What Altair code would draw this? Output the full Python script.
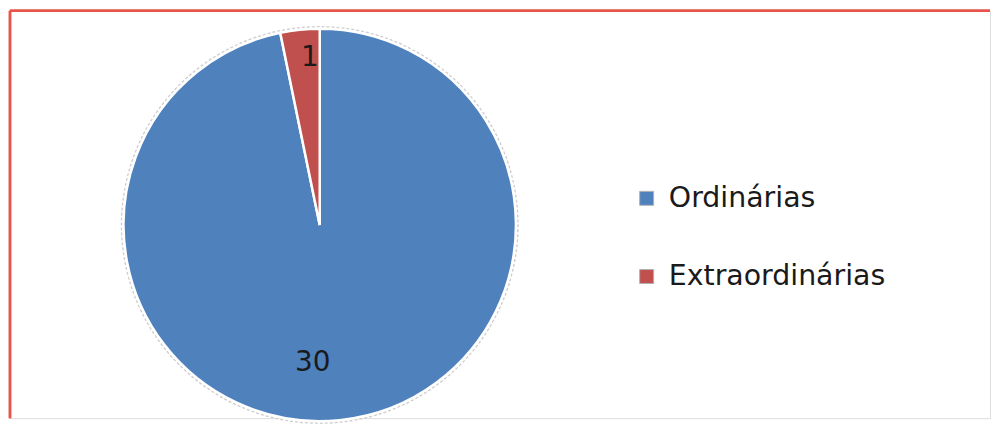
import altair as alt
import pandas as pd

categories = ["Ordinárias", "Extraordinárias"]
values = [30, 1]
colors = ["#4F81BD", "#C0504D"]

df = pd.DataFrame({"categoria": categories, "valor": values, "ordem": [0, 1]})

W, H = 984, 409
CX, CY, R = 311, 215, 197

base = alt.Chart(df)

theta = alt.Theta("valor:Q", stack=True, scale=alt.Scale(zero=True))
order = alt.Order("ordem:Q")

shadow = base.transform_aggregate(total="sum(valor)").mark_arc(
    radius=R + 2, fill=None, stroke="#cfcfcf", strokeWidth=1.5, strokeDash=[3, 2]
).encode(theta=alt.Theta("total:Q"), x=alt.value(CX), y=alt.value(CY))

pie = base.mark_arc(radius=R, stroke="white", strokeWidth=2.5).encode(
    theta=theta,
    order=order,
    color=alt.Color(
        "categoria:N",
        scale=alt.Scale(domain=categories, range=colors),
        legend=alt.Legend(
            title=None,
            orient="none",
            legendX=625,
            legendY=174,
            symbolType="square",
            symbolSize=196,
            symbolStrokeColor="#b0b0b0",
            symbolStrokeWidth=1,
            labelFont="DejaVu Sans",
            labelFontSize=28.5,
            labelColor="#1a1a1a",
            labelOffset=8,
            labelLimit=400,
            rowPadding=49.5,
            symbolOpacity=1,
        ),
    ),
    x=alt.value(CX),
    y=alt.value(CY),
)

stacked = base.transform_window(
    cum="sum(valor)", sort=[alt.SortField("ordem")], frame=[None, 0]
).transform_calculate(mid="datum.cum - datum.valor / 2")

lbl30 = stacked.transform_filter(alt.datum.ordem == 0).mark_text(
    radius=139, dx=-21, font="DejaVu Sans", fontSize=28, color="#1a1a1a"
).encode(theta=alt.Theta("mid:Q", stack=None), text="valor:Q", x=alt.value(CX), y=alt.value(CY))

lbl1 = stacked.transform_filter(alt.datum.ordem == 1).mark_text(
    radius=168, dx=7, font="DejaVu Sans", fontSize=28, color="#1a1a1a"
).encode(theta=alt.Theta("mid:Q", stack=None), text="valor:Q", x=alt.value(CX), y=alt.value(CY))

border_top = base.mark_rule(color="#E8534A", strokeWidth=2.5).encode(
    x=alt.value(0), x2=alt.value(W), y=alt.value(0)
)
border_left = base.mark_rule(color="#E8534A", strokeWidth=2.5).encode(
    x=alt.value(0), y=alt.value(0), y2=alt.value(H)
)

chart = alt.layer(shadow, pie, lbl30, lbl1, border_top, border_left).properties(
    width=W, height=H, padding=0
).configure_view(strokeWidth=0, stroke="transparent").configure(background="white")

chart.save("out.html", embed_options={"renderer": "svg", "actions": False})
